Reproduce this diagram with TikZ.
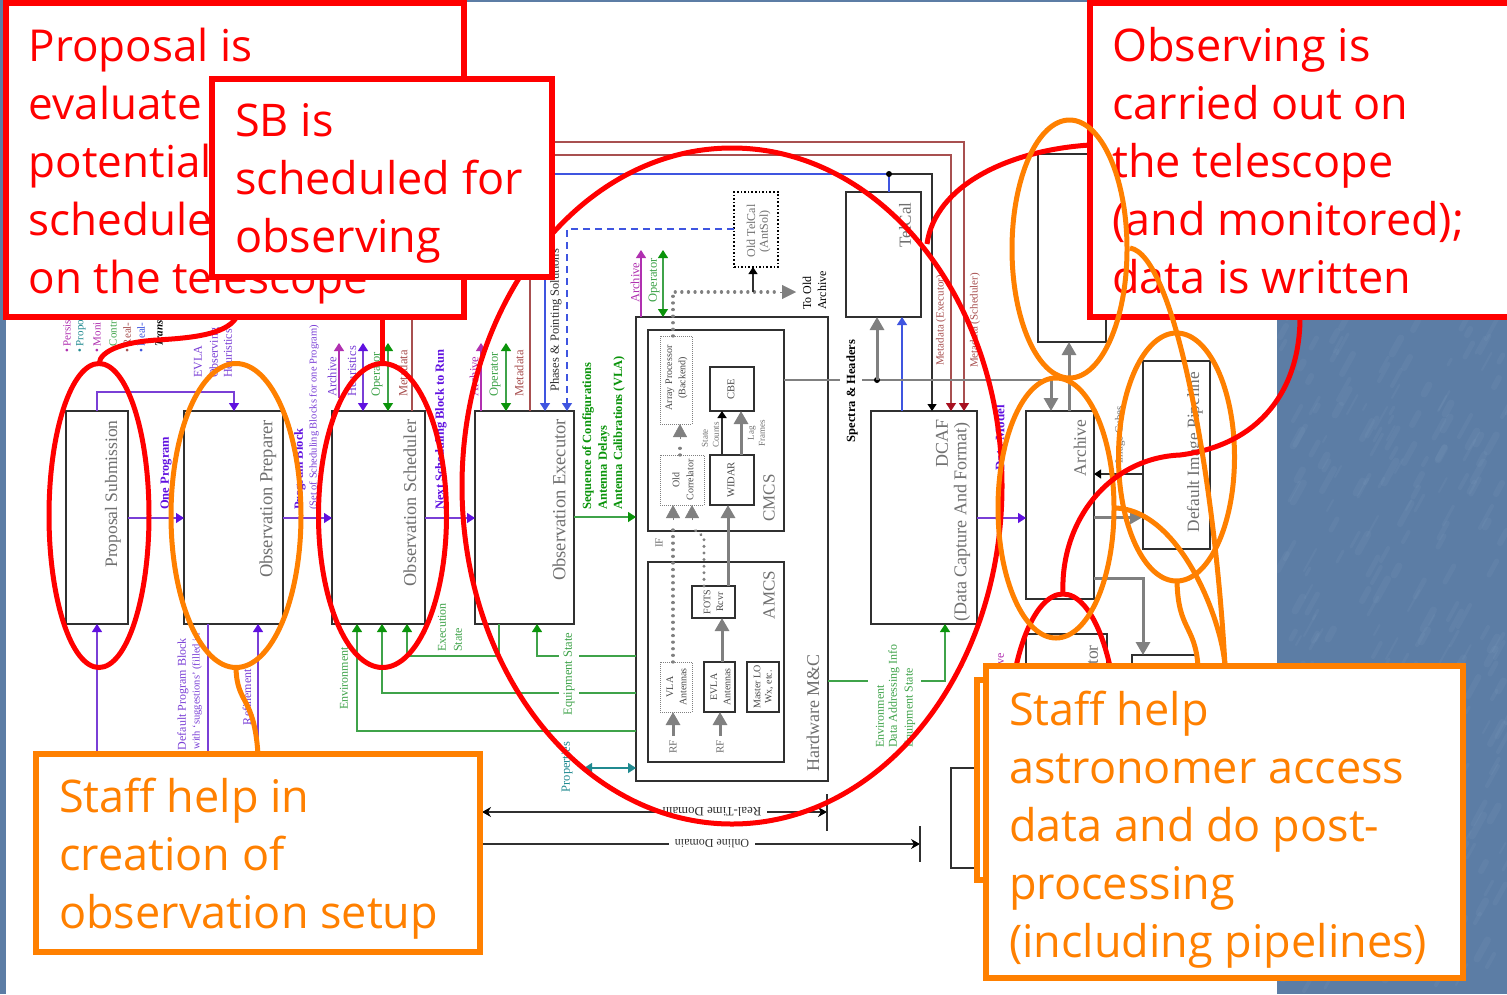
\documentclass[tikz,border=0pt]{standalone}
\usepackage{fontspec}
\usetikzlibrary{arrows.meta,calc}
\setmainfont{Liberation Serif}
\newfontfamily\callfont{Open Sans}
\definecolor{bgblue}{HTML}{5C7DA5}
\definecolor{bgstreak}{HTML}{86A3C4}
\definecolor{cred}{HTML}{FF0000}
\definecolor{corange}{HTML}{FF8000}
\definecolor{cpurple}{HTML}{7A3FD6}
\definecolor{cpurpleh}{HTML}{6010E0}
\definecolor{cgreen}{HTML}{3FA34A}
\definecolor{cgreenh}{HTML}{0A940A}
\definecolor{cdred}{HTML}{A85050}
\definecolor{cdredh}{HTML}{A81020}
\definecolor{cblue}{HTML}{3F55E0}
\definecolor{cmag}{HTML}{B030B0}
\definecolor{cteal}{HTML}{208A90}
\definecolor{cgray}{HTML}{808080}
\definecolor{ctext}{HTML}{707070}
\definecolor{cinner}{HTML}{484848}
\definecolor{cdark}{HTML}{303030}
\newcounter{lbc}
\newcommand{\rlab}[5][]{\stepcounter{lbc}\node[rl,#1] (lab\arabic{lbc}) at (#2,#3) {\fontsize{#4}{#4}\selectfont #5};}
\newcommand{\bx}[6][]{\node[boxn,#1,minimum width={(#5-#3)*1pt},minimum height={(#6-#4)*1pt}] (#2) at ({(#3+#5)/2},{(#4+#6)/2}) {};}
\tikzset{
  boxn/.style={draw=cdark,line width=1.6pt,fill=white,inner sep=0pt,outer sep=0pt},
  rl/.style={rotate=90,inner sep=0pt,text=ctext},
  dotb/.style={draw=cgray,line width=1pt,densely dotted},
  lnp/.style={draw=cpurple,line width=1.2pt},
  lng/.style={draw=cgreen,line width=1.2pt},
  lnr/.style={draw=cdred,line width=1.2pt},
  lnb/.style={draw=cblue,line width=1.2pt},
  lnk/.style={draw=cdark,line width=1.2pt},
  lngr/.style={draw=cgray,line width=3pt},
  tp/.style={-{Triangle[length=8pt,width=10pt,color=cpurpleh]}},
  tg/.style={-{Triangle[length=8pt,width=10pt,color=cgreenh]}},
  tr/.style={-{Triangle[length=8pt,width=10pt,color=cdredh]}},
  tb/.style={-{Triangle[length=8pt,width=10pt,color=cblue]}},
  tk/.style={-{Triangle[length=7pt,width=9pt,color=black]}},
  tgr/.style={-{Triangle[length=13pt,width=14pt,color=cgray]}},
  dotl/.style={draw=cgray,line width=3.2pt,line cap=round,dash pattern=on 0.1pt off 6.5pt},
  ered/.style={draw=cred,line width=5pt},
  eor/.style={draw=corange,line width=5pt},
  cred box/.style={draw=cred,line width=6pt,fill=white,inner sep=0pt,outer sep=0pt},
  cor box/.style={draw=corange,line width=6pt,fill=white,inner sep=0pt,outer sep=0pt},
  ctxt/.style={inner sep=0pt,align=left,anchor=north west,font=\callfont\fontsize{45}{58}\selectfont},
}
\begin{document}
\begin{tikzpicture}[x=1pt,y=-1pt]
\useasboundingbox (0,0) rectangle (1507,994);
% background with a faint mottled texture
\fill[bgblue] (0,0) rectangle (1507,994);
\pgfmathsetseed{7}
\begin{scope}
\clip (0,0) rectangle (1507,994);
\foreach \i in {1,...,420}{
  \pgfmathsetmacro\px{1277+random(0,230)}
  \pgfmathsetmacro\py{random(0,994)}
  \pgfmathsetmacro\ln{6+random(0,16)}
  \pgfmathsetmacro\wd{2+random(0,5)}
  \draw[bgstreak,opacity=0.12,line width=\wd pt,line cap=round] (\px,\py) -- ++(\ln*0.55,-\ln);
}
\end{scope}
\fill[white] (6,2) rectangle (1277,994);
% main boxes
\bx{ps}{66}{411}{128}{624}
\bx{op}{184}{411}{283}{624}
\bx{os}{332}{411}{425}{624}
\bx{oe}{475}{411}{574}{624}
\bx{hw}{636}{317}{828}{781}
\bx{cm}{648}{330}{784}{531}
\bx{am}{648}{562}{784}{762}
\bx[dotb]{ap}{660}{336}{692}{424}
\bx{cb}{710}{367}{754}{411}
\bx{wd}{710}{455}{754}{505}
\bx[dotb]{oc}{660}{455}{704}{505}
\bx{fo}{692}{586}{735}{618}
\bx[dotb]{vl}{660}{662}{692}{712}
\bx{ev}{704}{662}{735}{712}
\bx{ml}{747}{662}{779}{712}
\bx[draw=black,line width=1.6pt,dotted]{ot}{734}{192}{778}{267}
\bx{tc}{846}{192}{921}{317}
\bx{dc}{871}{411}{977}{624}
\bx{tb}{1038}{154}{1106}{342}
\bx{ar}{1026}{411}{1094}{599}
\bx{dp}{1143}{361}{1210}{549}
\bx{nv}{1026}{634}{1107}{760}
\bx{sm}{1132}{655}{1196}{760}
\bx{bb}{951}{768}{1000}{868}
% named junctions
\coordinate (jt) at (889,174);
\coordinate (js) at (877,380);
% purple flow
\draw[lnp,tp] (ps.east |- 0,518) -- (op.west |- 0,518);
\draw[lnp,tp] (op.east |- 0,518) -- (os.west |- 0,518);
\draw[lnp,tp] (os.east |- 0,518) -- (oe.west |- 0,518);
\draw[lnp,tp] (dc.east |- 0,518) -- (ar.west |- 0,518);
\draw[lnp,tp] (97,0 |- ps.north) -- (97,392) -- (234,392) -- (234,0 |- op.north);
\draw[lnp,tp] (97,770) -- (97,0 |- ps.south);
\draw[lnp] (208,0 |- op.south) -- (208,770);
\draw[lnp,tp] (258,770) -- (258,0 |- op.south);
\draw[lnp,{Triangle[length=8pt,width=10pt,color=cpurpleh]}-{Triangle[length=8pt,width=10pt,color=cpurpleh]}] (363,343) -- (363,0 |- os.north);
\draw[draw=cmag,line width=1.2pt,-{Triangle[length=8pt,width=10pt,color=cmag]}] (339,398) -- (339,343);
\draw[draw=cmag,line width=1.2pt,-{Triangle[length=8pt,width=10pt,color=cmag]}] (481,0 |- oe.north) -- (481,343);
\draw[draw=cmag,line width=1.2pt,-{Triangle[length=8pt,width=10pt,color=cmag]}] (641,0 |- hw.north) -- (641,250);
% green
\draw[lng,{Triangle[length=8pt,width=10pt,color=cgreenh]}-{Triangle[length=8pt,width=10pt,color=cgreenh]}] (388,343) -- (388,0 |- os.north);
\draw[lng,{Triangle[length=8pt,width=10pt,color=cgreenh]}-{Triangle[length=8pt,width=10pt,color=cgreenh]}] (506,343) -- (506,0 |- oe.north);
\draw[lng,{Triangle[length=8pt,width=10pt,color=cgreenh]}-{Triangle[length=8pt,width=10pt,color=cgreenh]}] (663,250) -- (663,0 |- hw.north);
\draw[lng,tg] (oe.east |- 0,517) -- (hw.west |- 0,517);
\draw[lng,tg] (hw.west |- 0,656) -- (537,656) -- (537,0 |- oe.south);
\draw[lng,tg] (499,0 |- oe.south) -- (499,656) -- (407,656) -- (407,0 |- os.south);
\draw[lng,tg] (hw.west |- 0,693) -- (382,693) -- (382,0 |- os.south);
\draw[lng,tg] (hw.west |- 0,731) -- (357,731) -- (357,0 |- os.south);
\draw[lng] (hw.east |- 0,681) -- (868,681);
\draw[lng,tg] (921,681) -- (945,681) -- (945,0 |- dc.south);
% teal
\draw[draw=cteal,line width=1.2pt,{Triangle[length=8pt,width=10pt,color=cteal]}-{Triangle[length=8pt,width=10pt,color=cteal]}] (584,768) -- (hw.west |- 0,768);
% dark red
\draw[lnr,tr] (412,0 |- os.north) -- (412,142) -- (964,142) -- (964,0 |- dc.north);
\draw[lnr,tr] (530,0 |- oe.north) -- (530,155) -- (951,155) -- (951,0 |- dc.north);
% blue and black
\draw[lnb,tb] (jt) -- (545,174) -- (545,0 |- oe.north);
\draw[lnb] (jt) -- (889,0 |- tc.north);
\draw[lnk,tk] (jt) -- (932,174) -- (932,0 |- dc.north);
\fill[black] (jt) circle (3pt);
\draw[lnb,dash pattern=on 7pt off 5pt,tb] (ot.west |- 0,229) -- (567,229) -- (567,0 |- oe.north);
\draw[lnb,tb] (902,0 |- dc.north) -- (902,0 |- tc.south);
% gray
\draw[draw=cgray,line width=2.4pt] (cm.east |- 0,380) -- (840,380);
\draw[draw=cgray,line width=2.4pt] (862,380) -- (1051,380);
\fill[black] (js) circle (3pt);
\draw[lngr,tgr] (js) -- (877,0 |- tc.south);
\draw[lngr,tgr] (1051,380) -- (1051,0 |- ar.north);
\draw[lngr,tgr] (1069,0 |- ar.north) -- (1069,0 |- tb.south);
\draw[lngr,tgr] (ar.east |- 0,517) -- (dp.west |- 0,517);
\draw[lngr,tgr] (ar.east |- 0,578) -- (1143,578) -- (1143,0 |- sm.north);
\draw[lnk,tk] (dp.west |- 0,474) -- (ar.east |- 0,474);
\draw[lngr,tgr] (741,0 |- wd.north) -- (741,0 |- cb.south);
\draw[draw=cdark,line width=2pt,tk] (722,0 |- wd.north) -- (722,0 |- cb.south);
\draw[lngr,tgr] (728,0 |- fo.north) -- (728,0 |- wd.south);
\draw[lngr,tgr] (722,0 |- ev.north) -- (722,0 |- fo.south);
\draw[lngr,tgr] (673,736) -- (673,0 |- vl.south);
\draw[lngr,tgr] (720,736) -- (720,0 |- ev.south);
\draw[dotl] (673,0 |- vl.north) -- (673,526);
\draw[draw=cgray,-{Triangle[length=13pt,width=14pt,color=cgray]}] (673,520) -- (673,0 |- oc.south);
\draw[dotl] (704,0 |- fo.north) -- (704,537) -- (692,528);
\draw[draw=cgray,-{Triangle[length=13pt,width=14pt,color=cgray]}] (692,520) -- (692,0 |- oc.south);
\draw[dotl] (680,0 |- oc.north) -- (680,443);
\draw[draw=cgray,-{Triangle[length=13pt,width=14pt,color=cgray]}] (680,439) -- (680,0 |- ap.south);
\draw[dotl] (673,0 |- ap.north) -- (673,292) -- (780,292);
\draw[draw=cgray,-{Triangle[length=14pt,width=14pt,color=cgray]}] (780,292) -- (796,292);
\draw[lnk,tk] (753,292) -- (753,0 |- ot.south);
% domains
\draw[lnk,{Stealth[length=9pt,width=10pt,color=black]}-{Stealth[length=9pt,width=10pt,color=black]}] (482,812) -- (827,812);
\draw[lnk,-{Stealth[length=9pt,width=10pt,color=black]}] (470,844) -- (920,844);
\draw[lnk] (482,794) -- (482,830);
\draw[lnk] (827,794) -- (827,831);
\draw[lnk] (920,826) -- (920,862);
% labels: boxes
\rlab{113}{494}{17.5}{Proposal Submission}
\rlab{268}{499}{18.5}{Observation Preparer}
\rlab{410}{503}{18.2}{Observation Scheduler}
\rlab{559}{500}{18.5}{Observation Executor}
\rlab{942}{443}{18}{DCAF}
\rlab{962}{522}{18}{(Data Capture And Format)}
\rlab{1080}{448}{17.5}{Archive}
\rlab{1195}{452}{17.3}{Default Image Pipeline}
\rlab{905}{225}{17}{TelCal}
\rlab{769}{498}{17}{CMCS}
\rlab{769}{595}{17}{AMCS}
\rlab{813}{713}{18}{Hardware M\&C}
\rlab{1093}{655}{17.5}{tor}
% labels: inner boxes
\rlab[text=cinner]{670}{378}{10}{Array Processor}
\rlab[text=cinner]{683}{378}{10}{(Backend)}
\rlab[text=cinner]{731}{389}{10.5}{CBE}
\rlab[text=cinner]{676}{480}{10}{Old}
\rlab[text=cinner]{690}{480}{10}{Correlator}
\rlab[text=cinner]{731}{480}{10.5}{WIDAR}
\rlab[text=cinner]{707}{602}{10}{FOTS}
\rlab[text=cinner]{720}{602}{10}{Rcvr}
\rlab[text=cinner]{670}{687}{10}{VLA}
\rlab[text=cinner]{683}{687}{10}{Antennas}
\rlab[text=cinner]{714}{687}{10}{EVLA}
\rlab[text=cinner]{727}{687}{10}{Antennas}
\rlab[text=cinner]{757}{687}{10}{Master LO}
\rlab[text=cinner]{769}{687}{10}{Wx, etc.}
\rlab{751}{231}{12}{Old TelCal}
\rlab{765}{231}{12}{(AntSol)}
\rlab{705}{438}{9}{State}
\rlab{716}{435}{9}{Counts}
\rlab{752}{433}{9}{Lag}
\rlab{762}{433}{9}{Frames}
\rlab{659}{543}{11}{IF}
\rlab{673}{747}{11}{RF}
\rlab{720}{747}{11}{RF}
\rlab[text=black,anchor=west]{807}{310}{12}{To Old}
\rlab[text=black,anchor=west]{822}{310}{12}{Archive}
% labels: top-left legend
\rlab[anchor=west,text=cmag]{67}{353}{11}{• Persis}
\rlab[anchor=west,text=cteal]{81}{353}{11}{• Propo}
\rlab[anchor=west,text=cmag]{97}{353}{11}{• Moni}
\rlab[anchor=west,text=cgreen]{113}{353}{11}{• Contr}
\rlab[anchor=west,text=cdred]{127}{353}{11}{• Real-}
\rlab[anchor=west,text=cblue]{141}{353}{11}{• Real-}
\rlab[anchor=west,text=black,font=\bfseries\itshape]{159}{347}{11}{Trans}
\rlab[anchor=west,text=cpurple]{198}{378}{12}{EVLA}
\rlab[anchor=west,text=cpurple]{215}{378}{12}{Observing}
\rlab[anchor=west,text=cpurple]{228}{378}{12}{Heuristics}
% labels: purple
\rlab[anchor=west,text=cpurpleh,font=\bfseries]{166}{510}{12.5}{One Program}
\rlab[anchor=east,text=cpurple]{183}{638}{12}{Default Program Block}
\rlab[anchor=east,text=cpurple]{197}{633}{10.5}{with `suggestions' (filled in}
\rlab[text=cpurple]{247}{697}{12}{Refinement}
\rlab[anchor=west,text=cpurpleh,font=\bfseries]{300}{510}{12.5}{Program Block}
\rlab[anchor=west,text=cpurple]{314}{510}{10.5}{(Set of Scheduling Blocks for one Program)}
\rlab[anchor=west,text=cpurple]{332}{397}{12.5}{Archive}
\rlab[anchor=west,text=cpurple]{352}{397}{12.5}{Heuristics}
\rlab[anchor=west,text=cgreen]{377}{397}{12.5}{Operator}
\rlab[anchor=west,text=cdred]{403}{397}{12.5}{Metadata}
\rlab[anchor=west,text=cpurpleh,font=\bfseries]{441}{510}{12.5}{Next Scheduling Block to Run}
\rlab[anchor=west,text=cmag]{474}{397}{12.5}{Archive}
\rlab[anchor=west,text=cgreen]{495}{397}{12.5}{Operator}
\rlab[anchor=west,text=cdred]{519}{397}{12.5}{Metadata}
\rlab[anchor=west,text=cdark]{556}{392}{12.5}{Phases \& Pointing Solutions}
\rlab[anchor=west,text=cmag]{635}{303}{12.5}{Archive}
\rlab[anchor=west,text=cgreen]{654}{303}{12.5}{Operator}
\rlab[anchor=west,text=cgreenh,font=\bfseries]{588}{510}{12.5}{Sequence of Configurations}
\rlab[anchor=west,text=cgreenh,font=\bfseries]{604}{510}{12.5}{Antenna Delays}
\rlab[anchor=west,text=cgreenh,font=\bfseries]{619}{510}{12.5}{Antenna Calibrations (VLA)}
\rlab[anchor=west,text=cgreen]{442}{652}{12}{Execution}
\rlab[anchor=west,text=cgreen]{458}{652}{12}{State}
\rlab[anchor=west,text=cgreen]{344}{710}{12}{Environment}
\rlab[text=cgreen,fill=white,inner xsep=3pt,inner ysep=5pt]{569}{674}{12.5}{Equipment State}
\rlab[text=cteal]{567}{767}{12.5}{Properties}
\rlab[anchor=west,text=cdred]{941}{366}{11}{Metadata (Executor)}
\rlab[anchor=west,text=cdred]{975}{368}{11}{Metadata (Scheduler)}
\rlab[text=black,font=\bfseries]{852}{391}{12.5}{Spectra \& Headers}
\rlab[anchor=east,text=cpurpleh,font=\bfseries]{1000}{405}{13}{Data Model}
\rlab[text=ctext]{1120}{435}{11}{Image Cubes}
\rlab[anchor=west,text=cmag]{1000}{668}{12}{ive}
\rlab[anchor=west,text=cgreen]{880}{748}{12}{Environment}
\rlab[anchor=west,text=cgreen]{894}{748}{12}{Data Addressing Info}
\rlab[anchor=west,text=cgreen]{910}{748}{12}{Equipment State}
\rlab[rotate=90,text=cdark,fill=white,inner xsep=6pt,inner ysep=4pt]{712}{812}{12.8}{Real-Time Domain}
\rlab[rotate=90,text=cdark,fill=white,inner xsep=6pt,inner ysep=4pt]{712}{844}{12}{Online Domain}
% ellipses and red leaders under the callouts
\coordinate (anchorA) at (99,364);
\draw[ered] (99,515.5) ellipse [x radius=50,y radius=152];
\draw[ered] (382.5,515.5) ellipse [x radius=64,y radius=152];
\draw[ered] (732,486) ellipse [x radius=270,y radius=338];
\draw[ered] (1063,745) ellipse [x radius=55,y radius=151];
\draw[eor] (236,515.5) ellipse [x radius=65,y radius=152];
\draw[eor] (1056,508) ellipse [x radius=58,y radius=130];
\draw[eor] (1176.5,457) ellipse [x radius=58,y radius=124];
\draw[ered] (236,318) .. controls (225,335) and (190,338) .. (157,340) .. controls (125,342) and (100,350) .. (anchorA);
\draw[ered] (382,277) -- (382,363);
\draw[ered] (1090,145) .. controls (1010,150) and (935,185) .. (927,244);
\draw[ered] (1300,317) .. controls (1300,390) and (1260,445) .. (1180,455) .. controls (1110,458) and (1060,520) .. (1063,594);
\draw[eor] (236,668) .. controls (237,705) and (254,695) .. (258,754);
% callouts
\node[cred box,minimum width=458pt,minimum height=314pt] (cb1) at (235,160) {};
\node[ctxt,text=cred,font=\callfont\fontsize{44}{58}\selectfont] (ct1) at (28.5,27.5) {Proposal is\\evaluate\\potential\\schedule\\on the telescope};
\node[cred box,minimum width=340pt,minimum height=198pt] (cb2) at (382,178) {};
\node[ctxt,text=cred] (ct2) at (235,103) {SB is\\scheduled for\\observing};
\node[cor box,minimum width=444pt,minimum height=198pt] (cb3) at (258,853) {};
\node[ctxt,text=corange] (ct3) at (59,778) {Staff help in\\creation of\\observation setup};
\node[cor box,minimum width=40pt,minimum height=200pt] (cb4) at (997,780) {};
\node[cor box,minimum width=477pt,minimum height=312pt] (cb5) at (1224.5,822) {};
\node[ctxt,text=corange] (ct5) at (1009,691) {Staff help\\astronomer access\\data and do post-\\processing\\(including pipelines)};
\node[cred box,minimum width=430pt,minimum height=314pt] (cb6) at (1305,160) {};
\node[ctxt,text=cred] (ct6) at (1112,27) {Observing is\\carried out on\\the telescope\\(and monitored);\\data is written};
% orange over the callout
\draw[eor] (1069.5,249) ellipse [x radius=57.5,y radius=129];
\draw[eor] (1177,581) .. controls (1178,630) and (1195,625) .. (1198,666);
\draw[eor] (1130,248) .. controls (1175,255) and (1215,480) .. (1225,666);
\draw[eor] (1115,508) .. controls (1180,510) and (1222,620) .. (1225,666);
\end{tikzpicture}
\end{document}
